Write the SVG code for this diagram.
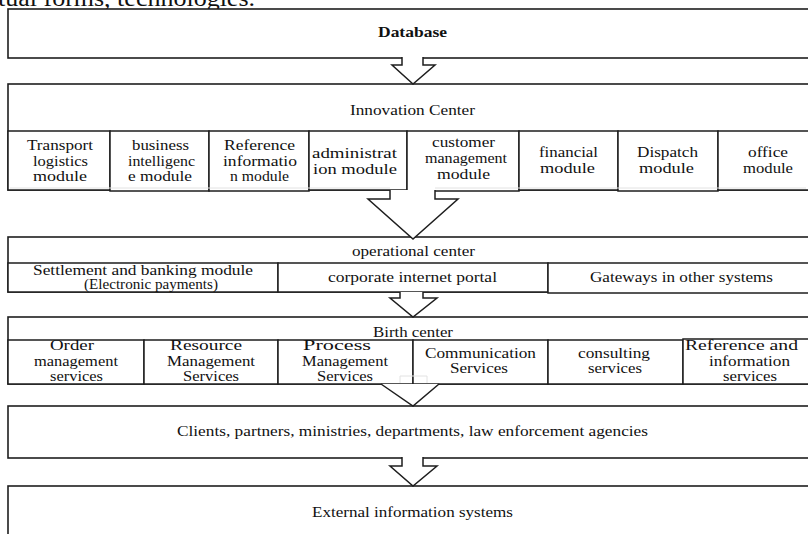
<svg xmlns="http://www.w3.org/2000/svg" width="808" height="534" viewBox="0 0 808 534">
<style>
.box{fill:#fff;stroke:#1e1e1e;stroke-width:1.6}
.cell{fill:#fff;stroke:#1e1e1e;stroke-width:1.5}
.arrow{fill:#fff;stroke:#1e1e1e;stroke-width:1.5;stroke-linejoin:miter}
.ghost{fill:none;stroke:#e2e2e2;stroke-width:1}
text{font-family:"Liberation Serif","Times New Roman","DejaVu Serif",serif;font-size:15px;fill:#111}
.b{font-weight:bold;font-size:14px}
.s{font-size:14px}
</style>
<rect width="808" height="534" fill="#fff"/>
<text x="-2" y="6" style="font-size:24px" textLength="257" lengthAdjust="spacingAndGlyphs">tual forms, technologies.</text>

<g id="database">
<rect class="box" x="8" y="9" width="830" height="49"/>
<text class="b" x="378" y="37" textLength="69" lengthAdjust="spacingAndGlyphs">Database</text>
</g>

<g id="innovation-center">
<rect class="box" x="8" y="84" width="830" height="106"/>
<text x="350" y="115" textLength="125" lengthAdjust="spacingAndGlyphs">Innovation Center</text>
</g>
<g id="transport-logistics-module">
<rect class="cell" x="8" y="131" width="102" height="59"/>
<text x="27" y="150" textLength="66" lengthAdjust="spacingAndGlyphs">Transport</text>
<text x="33" y="165.5" textLength="55" lengthAdjust="spacingAndGlyphs">logistics</text>
<text x="33" y="181" textLength="54" lengthAdjust="spacingAndGlyphs">module</text>
</g>
<g id="business-intelligence-module">
<rect class="cell" x="110" y="131" width="99" height="60"/>
<text x="132" y="150" textLength="57" lengthAdjust="spacingAndGlyphs">business</text>
<text x="128" y="165.5" textLength="67" lengthAdjust="spacingAndGlyphs">intelligenc</text>
<text x="128" y="181" textLength="64" lengthAdjust="spacingAndGlyphs">e module</text>
</g>
<g id="reference-information-module">
<rect class="cell" x="209" y="131" width="100" height="60"/>
<text x="224" y="150" textLength="71" lengthAdjust="spacingAndGlyphs">Reference</text>
<text x="223" y="165.5" textLength="74" lengthAdjust="spacingAndGlyphs">informatio</text>
<text x="230" y="181" textLength="59" lengthAdjust="spacingAndGlyphs">n module</text>
</g>
<g id="administration-module">
<rect class="cell" x="309" y="131" width="98" height="59"/>
<text x="312" y="158" textLength="85" lengthAdjust="spacingAndGlyphs">administrat</text>
<text x="313" y="174" textLength="84" lengthAdjust="spacingAndGlyphs">ion module</text>
</g>
<g id="customer-management-module">
<rect class="cell" x="407" y="131" width="112" height="60"/>
<text x="432" y="147" textLength="63" lengthAdjust="spacingAndGlyphs">customer</text>
<text x="425" y="163" textLength="82" lengthAdjust="spacingAndGlyphs">management</text>
<text x="437" y="179" textLength="53" lengthAdjust="spacingAndGlyphs">module</text>
</g>
<g id="financial-module">
<rect class="cell" x="519" y="131" width="99" height="59"/>
<text x="539" y="157" textLength="59" lengthAdjust="spacingAndGlyphs">financial</text>
<text x="540" y="173" textLength="55" lengthAdjust="spacingAndGlyphs">module</text>
</g>
<g id="dispatch-module">
<rect class="cell" x="618" y="131" width="100" height="60"/>
<text x="637" y="157" textLength="61" lengthAdjust="spacingAndGlyphs">Dispatch</text>
<text x="639" y="173" textLength="55" lengthAdjust="spacingAndGlyphs">module</text>
</g>
<g id="office-module">
<rect class="cell" x="718" y="131" width="120" height="59"/>
<text x="748" y="157" textLength="40" lengthAdjust="spacingAndGlyphs">office</text>
<text x="743" y="173" textLength="50" lengthAdjust="spacingAndGlyphs">module</text>
</g>

<g id="operational-center">
<rect class="box" x="8" y="237" width="830" height="55"/>
<text x="352" y="256" textLength="123" lengthAdjust="spacingAndGlyphs">operational center</text>
</g>
<g id="settlement-banking-module">
<rect class="cell" x="8" y="263" width="270" height="29"/>
<text class="s" x="33" y="275" textLength="220" lengthAdjust="spacingAndGlyphs">Settlement and banking module</text>
<text class="s" x="84" y="289" textLength="134" lengthAdjust="spacingAndGlyphs">(Electronic payments)</text>
</g>
<g id="corporate-internet-portal">
<rect class="cell" x="278" y="263" width="270" height="29"/>
<text x="328" y="282" textLength="169" lengthAdjust="spacingAndGlyphs">corporate internet portal</text>
</g>
<g id="gateways-other-systems">
<rect class="cell" x="548" y="263" width="290" height="30"/>
<text x="590" y="282" textLength="183" lengthAdjust="spacingAndGlyphs">Gateways in other systems</text>
</g>

<g id="birth-center">
<rect class="box" x="8" y="317" width="830" height="67"/>
<text x="373" y="337" textLength="80" lengthAdjust="spacingAndGlyphs">Birth center</text>
</g>
<g id="order-management-services">
<rect class="cell" x="8" y="340" width="136" height="44"/>
<text x="50" y="350" textLength="44" lengthAdjust="spacingAndGlyphs">Order</text>
<text x="34" y="366" textLength="84" lengthAdjust="spacingAndGlyphs">management</text>
<text x="50" y="381" textLength="53" lengthAdjust="spacingAndGlyphs">services</text>
</g>
<g id="resource-management-services">
<rect class="cell" x="144" y="340" width="134" height="44"/>
<text x="170" y="350" textLength="72" lengthAdjust="spacingAndGlyphs">Resource</text>
<text x="167" y="366" textLength="88" lengthAdjust="spacingAndGlyphs">Management</text>
<text x="183" y="381" textLength="56" lengthAdjust="spacingAndGlyphs">Services</text>
</g>
<g id="process-management-services">
<rect class="cell" x="278" y="340" width="135" height="44"/>
<text x="303" y="350" textLength="68" lengthAdjust="spacingAndGlyphs">Process</text>
<text x="302" y="366" textLength="86" lengthAdjust="spacingAndGlyphs">Management</text>
<text x="317" y="381" textLength="56" lengthAdjust="spacingAndGlyphs">Services</text>
</g>
<g id="communication-services">
<rect class="cell" x="413" y="340" width="135" height="44"/>
<text x="425" y="358" textLength="111" lengthAdjust="spacingAndGlyphs">Communication</text>
<text x="450" y="373" textLength="58" lengthAdjust="spacingAndGlyphs">Services</text>
</g>
<g id="consulting-services">
<rect class="cell" x="548" y="340" width="135" height="44"/>
<text x="578" y="358" textLength="72" lengthAdjust="spacingAndGlyphs">consulting</text>
<text x="588" y="373" textLength="54" lengthAdjust="spacingAndGlyphs">services</text>
</g>
<g id="reference-information-services">
<rect class="cell" x="683" y="339" width="155" height="45"/>
<text x="685" y="350" textLength="113" lengthAdjust="spacingAndGlyphs">Reference and</text>
<text x="709" y="366" textLength="81" lengthAdjust="spacingAndGlyphs">information</text>
<text x="723" y="381" textLength="54" lengthAdjust="spacingAndGlyphs">services</text>
</g>

<g id="clients-partners">
<rect class="box" x="8" y="406" width="830" height="52"/>
<text x="177" y="436" textLength="471" lengthAdjust="spacingAndGlyphs">Clients, partners, ministries, departments, law enforcement agencies</text>
</g>

<g id="external-information-systems">
<rect class="box" x="8" y="486" width="830" height="60"/>
<text x="312" y="517" textLength="201" lengthAdjust="spacingAndGlyphs">External information systems</text>
</g>

<g id="connectors">
<polyline class="ghost" points="10,188 390,188"/>
<polyline class="ghost" points="435,188 806,188"/>
<polyline class="ghost" points="400,383 400,376 427,376 427,383"/>
<polyline class="arrow" points="402,57 402,65 392,65 413,84 435,65 423,65 423,57"/>
<polyline class="arrow" points="390,190 390,199 368,199 413,239 458,199 435,199 435,190"/>
<polyline class="arrow" points="400,292 400,298 390,298 413,317 437,298 423,298 423,292"/>
<polyline class="arrow" points="381,384 413,406 439,384"/>
<polyline class="arrow" points="402,457 402,466 390,466 413,486 437,466 423,466 423,457"/>
</g>
</svg>
